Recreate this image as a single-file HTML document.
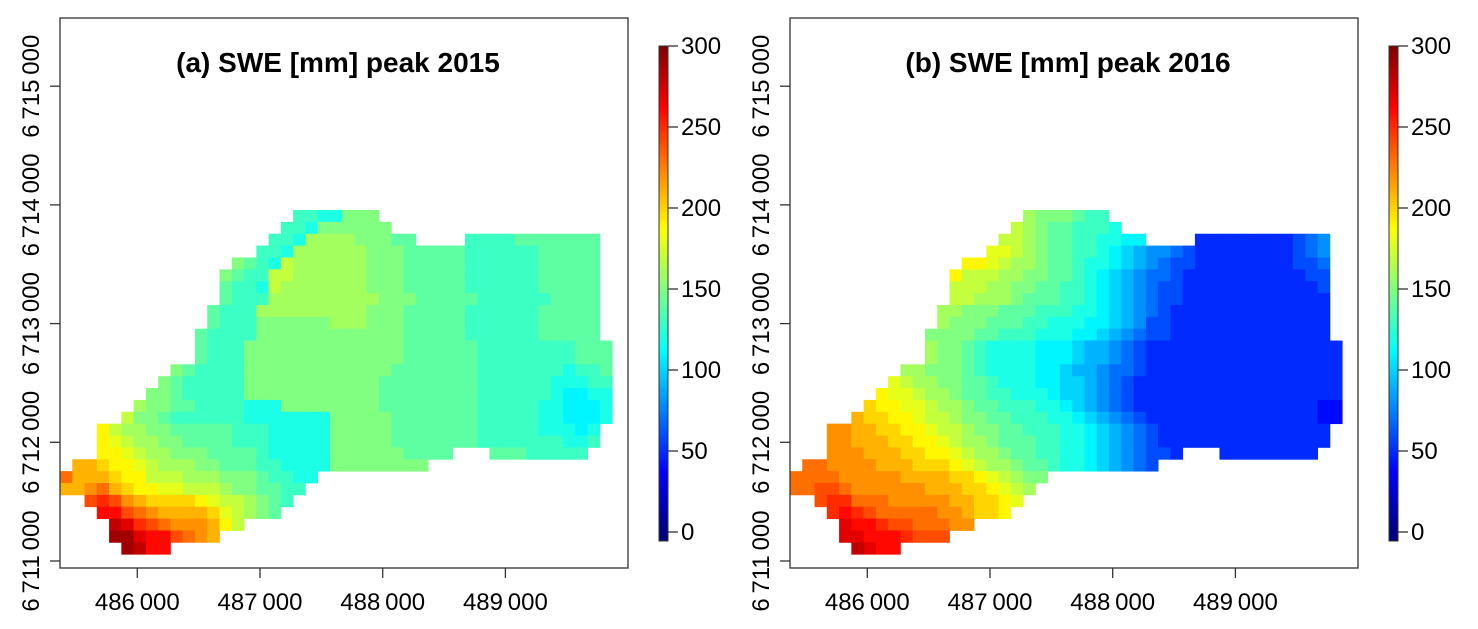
<!DOCTYPE html>
<html><head><meta charset="utf-8"><style>
html,body{margin:0;padding:0;background:#fff;}
svg{display:block;font-family:"Liberation Sans",Arial,sans-serif;}
</style></head><body>
<svg id="chart" width="1478" height="629" viewBox="0 0 1478 629"></svg>
<script>
// values coded: '0'-'9' = 0..90 mm, 'a'..'u' = 100..300 mm (step 10), '.' = no data
const rowStartA=[19,18,17,16,14,13,13,13,12,12,11,11,11,9,8,7,6,5,3,3,3,1,0,0,2,3,4,4,5];
const rowValsA=[
"ddccfff","ddcffffff","ddcggggfffee....ddddeeeeeee",
"ddcggggggfffeeeeeddddddeeeee","fedchggggggfffeeeeeddddddeeeee",
"feddhhggggggfffeeeeeddddddeeeee","eddchgggggggfffeeeeeddddddeeeee",
"edddgggggggggfffeeeeeddddddeeee","edddgggggggggfffeeeeeddddddeeeee",
"eddd"+"ffffff"+"ggg"+"fff"+"eeeee"+"dddddd"+"eeeee",
"eddddffffffffffffeeeeeddddddeeeee",
"edddfffffffffffffeeeeeeddddddddeee","edddfffffffffffffeeeeeeddddddddeee",
"feddddffffffffffffeeeeeeedddddddcdde",
"feddddd"+"fffffffffff"+"eeeeeeee"+"dddddd"+"cccdd",
"ffeddddd"+"fffffffffff"+"eeeeeeee"+"dddddd"+"cbbcc",
"gffeedddd"+"ccc"+"ffffffff"+"eeeeeeee"+"ddddd"+"ccbbbc",
"hffedddddd"+"ccccccc"+"fffff"+"eeeeeee"+"ddddd"+"ccbbbc",
"jhggffeeeeedddcccccfffffeeeeeeedddddcccbc",
"jihggffeeeedddcccccfffffeeeeeeedddddddccd",
"jjihggfffeeeedcccccffffffeeee...eeeddddd",
"llkjjihgggffeeeddccccffffffff",
"nlllkjjhhhgggfffeddcc","llmnlkjjiihhhgffeedd","opomlkkkkjihhgfed",
"qqonmllllkihgfe","srponmmmljh","ttrqqonml","tsqq"];
const rowStartB=rowStartA;
const rowValsB=[
"gfffedd","hgfeedddc","hhgfeeddccbb....55555555678",
"iihgfeeddcba98876"+"55555555"+"678",
"jjihggfeedccba98766"+"55555555"+"667",
"jhhhggffeedcba987765"+"55555555"+"566",
"hhhggffeeddcba987665"+"55555555"+"556",
"hhgggfeeeddcba987665"+"55555555"+"555",
"ggfffeeedddccba987655"+"55555555555",
"gfffeeeddcccbba986655"+"55555555555",
"ffffeedddcccbba9876655"+"55555555555",
"gffedccccbbba998765"+"555555555555555",
"gffedccccbbba998765"+"555555555555555",
"ggfffedccccbba998776"+"5555555555555555",
"ihggffeedcccbbaa9876"+"55555555555555555",
"jiihggfeeddcccbaa9876"+"55555555555555555",
"kjjiihggfeedddccba9876"+"55555555555555544",
"lkkjjihhgffeedddccba9876"+"5555555555555544",
"mmllkkjjihhgffeedddccba9876"+"55555555555555",
"mmlllkkjjihggfeeeddccba9876"+"55555555555555",
"mmmlllkkjjihggfeeddccba987665...55555555",
"nnmmmmlllkkkjihggfeedccba9876",
"nnnnmmmmmllllkkjihgff","nnoonmmmmmmlllkkjihg","oppnnnmmmmmllkkji",
"pqponnnnnmmlkkj","rqqpoonnnmm","rrqqqpooo","srqq"];
const xTickVals=[486000,487000,488000,489000];
const xTickLabels=["486\u2009000","487\u2009000","488\u2009000","489\u2009000"];
const yTickVals=[6711000,6712000,6713000,6714000,6715000];
const yTickLabels=["6\u2009711\u2009000","6\u2009712\u2009000","6\u2009713\u2009000","6\u2009714\u2009000","6\u2009715\u2009000"];
const cbTicks=[0,50,100,150,200,250,300];
const titles=["(a) SWE [mm] peak 2015","(b) SWE [mm] peak 2016"];

const NS="http://www.w3.org/2000/svg";
const svg=document.getElementById('chart');
function mk(tag,attrs,parent){const e=document.createElementNS(NS,tag);for(const k in attrs)e.setAttribute(k,attrs[k]);(parent||svg).appendChild(e);return e;}
function clamp(v){return Math.max(0,Math.min(1,v));}
function jet(v){const t=v/300;const r=clamp(1.5-Math.abs(4*t-3)),g=clamp(1.5-Math.abs(4*t-2)),b=clamp(1.5-Math.abs(4*t-1));
 return `rgb(${Math.round(r*255)},${Math.round(g*255)},${Math.round(b*255)})`;}
function decode(ch){if(ch>='0'&&ch<='9')return (ch.charCodeAt(0)-48)*10;return 100+(ch.charCodeAt(0)-97)*10;}

function panel(off,starts,vals,title,idx){
 const g=mk('g',{},svg);
 
 
 const x0=60+off, y0=210, cw=12.27, ch=11.87;
 const xCell=c=>x0+c*cw, yCell=r=>y0+r*ch;
 const xAxis=v=>137.3+off+(v-486000)*0.1227;
 const yAxis=v=>561-(v-6711000)*0.1187;
 const cells=mk('g',{},g);
 
 
 vals.forEach((s,r)=>{for(let i=0;i<s.length;i++){const c=s[i];if(c==='.')continue;
   const rc=mk('rect',{x:xCell(starts[r]+i).toFixed(2),y:yCell(r).toFixed(2),width:(cw+0.4).toFixed(2),height:(ch+0.4).toFixed(2),fill:jet(decode(c))},cells);
   
   }});
 const box=mk('rect',{x:60+off,y:18,width:568,height:550,fill:'none',stroke:'#333','stroke-width':1.3},g);
 
 
 const t=mk('text',{x:338+off,y:72,'text-anchor':'middle','font-size':28,'font-weight':'bold',fill:'#000'},g);
 t.textContent=title;
 
 
 xTickVals.forEach((v,i)=>{const x=xAxis(v);
  mk('line',{x1:x,x2:x,y1:568,y2:578,stroke:'#333','stroke-width':1.3},g);
  const tx=mk('text',{x:x,y:610,'text-anchor':'middle','font-size':24,fill:'#000'},g);
  tx.textContent=xTickLabels[i];
  
  });
 yTickVals.forEach((v,i)=>{const y=yAxis(v);
  mk('line',{x1:50+off,x2:60+off,y1:y,y2:y,stroke:'#333','stroke-width':1.3},g);
  const ty=mk('text',{x:39+off,y:y,'text-anchor':'middle','font-size':24,fill:'#000',transform:`rotate(-90 ${39+off} ${y})`},g);
  ty.textContent=yTickLabels[i];
  
  });
 const cb=mk('g',{},g);
 
 
 const cbY=v=>532-v*(486/300);
 for(let v=0;v<300;v+=2){mk('rect',{x:659+off,y:cbY(v+2).toFixed(2),width:9,height:(486/150+0.5).toFixed(2),fill:jet(v+1)},cb);}
 mk('rect',{x:659+off,y:532,width:9,height:9,fill:jet(0)},cb);
 mk('rect',{x:659+off,y:46,width:9,height:495,fill:'none',stroke:'#333','stroke-width':1},cb);
 cbTicks.forEach(v=>{const y=cbY(v);
  mk('line',{x1:668+off,x2:678+off,y1:y,y2:y,stroke:'#333','stroke-width':1.3},cb);
  const tl=mk('text',{x:681+off,y:y+8,'font-size':24,fill:'#000'},cb);
  tl.textContent=String(v);
  
  });
}
panel(0,rowStartA,rowValsA,titles[0],0);
panel(730,rowStartB,rowValsB,titles[1],1);
</script>
</body></html>
